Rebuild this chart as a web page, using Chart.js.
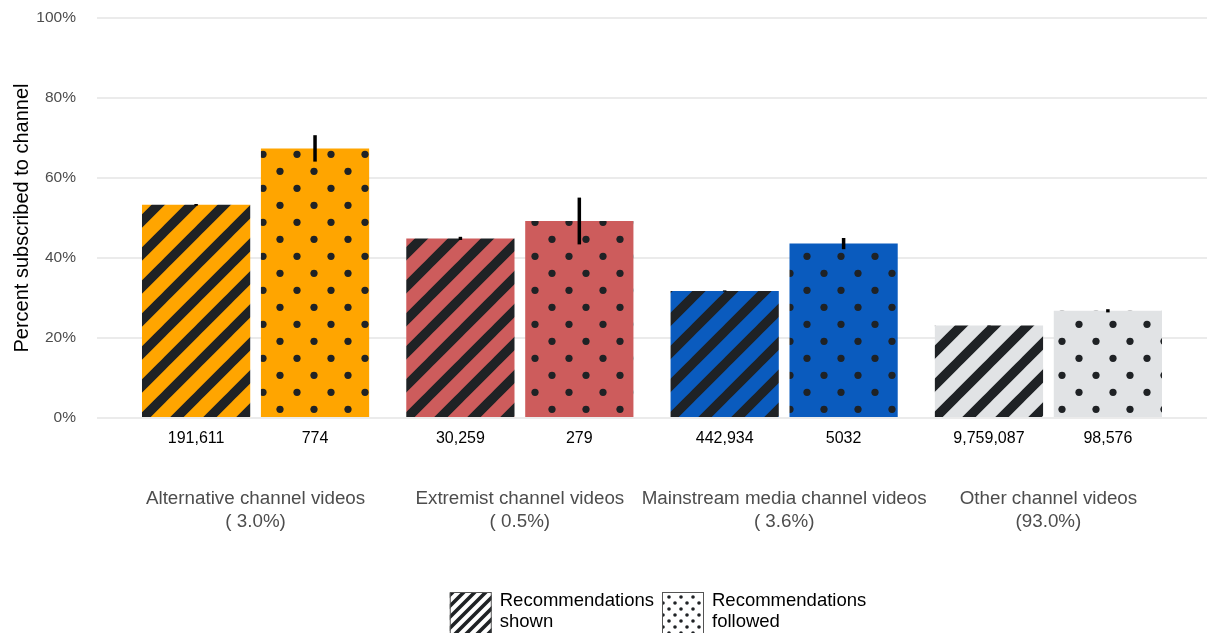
<!DOCTYPE html>
<html>
<head>
<meta charset="utf-8">
<script src="https://cdn.jsdelivr.net/npm/chart.js@4.4.0/dist/chart.umd.min.js"></script>
<style>
  html, body { margin: 0; padding: 0; background: #fff; }
  #wrap { width: 1207px; height: 633px; position: relative; }
</style>
</head>
<body>
<div id="wrap"><canvas id="subChart"></canvas></div>
<script>
/* Data */
const categories = [
  ["Alternative channel videos", "( 3.0%)"],
  ["Extremist channel videos", "( 0.5%)"],
  ["Mainstream media channel videos", "( 3.6%)"],
  ["Other channel videos", "(93.0%)"],
];
const seriesNames = [["Recommendations", "shown"], ["Recommendations", "followed"]];
const shownPct = [53.3, 44.9, 31.75, 23.1];
const followedPct = [67.4, 49.25, 43.6, 26.8];
const shownErr = [0.2, 0.4, 0.15, 0.05];
const followedErr = [3.3, 5.85, 1.4, 0.4];
const shownCounts = ["191,611", "30,259", "442,934", "9,759,087"];
const followedCounts = ["774", "279", "5032", "98,576"];
const yTicks = [0, 20, 40, 60, 80, 100];

const categoryColors = ["#FFA500", "#CD5C5C", "#0A5BBE", "#E1E3E5"];
const INK = "#1f2225";
const FONT = '"Liberation Sans", Arial, sans-serif';

Chart.defaults.font.family = FONT;

/* Fill patterns */
function stripePattern(base, period, width) {
  const c = document.createElement("canvas");
  c.width = c.height = period;
  const g = c.getContext("2d");
  g.fillStyle = base;
  g.fillRect(0, 0, period, period);
  g.strokeStyle = INK;
  g.lineWidth = width;
  g.lineCap = "square";
  g.beginPath();
  for (let k = -1; k <= 1; k++) {
    g.moveTo(k * period, period);
    g.lineTo(k * period + period, 0);
  }
  g.stroke();
  return g.createPattern(c, "repeat");
}

function dotPattern(base, step, r, ox, oy) {
  const c = document.createElement("canvas");
  c.width = c.height = step;
  const g = c.getContext("2d");
  g.fillStyle = base;
  g.fillRect(0, 0, step, step);
  g.fillStyle = INK;
  const half = step / 2;
  [[ox, oy], [ox + half, oy + half]].forEach(([px, py]) => {
    for (let dx = -step; dx <= step; dx += step) {
      for (let dy = -step; dy <= step; dy += step) {
        g.beginPath();
        g.arc(px + dx, py + dy, r, 0, Math.PI * 2);
        g.fill();
      }
    }
  });
  return g.createPattern(c, "repeat");
}

const shownFill = categoryColors.map((c) => stripePattern(c, 33, 9.5));
const followedFill = categoryColors.map((c) => dotPattern(c, 34, 3.6, 8, 1.3));

/* Error bars and counts under each bar */
const barNotes = {
  id: "barNotes",
  afterDatasetsDraw(chart) {
    const { ctx } = chart;
    const y = chart.scales.y;
    const errs = [shownErr, followedErr];
    const counts = [shownCounts, followedCounts];
    chart.data.datasets.forEach((ds, d) => {
      chart.getDatasetMeta(d).data.forEach((bar, i) => {
        const v = ds.data[i].y;
        ctx.save();
        ctx.strokeStyle = "#000";
        ctx.lineWidth = 3.5;
        ctx.beginPath();
        ctx.moveTo(bar.x, y.getPixelForValue(v - errs[d][i]));
        ctx.lineTo(bar.x, y.getPixelForValue(v + errs[d][i]));
        ctx.stroke();
        ctx.fillStyle = "#000";
        ctx.font = "16px " + FONT;
        ctx.textAlign = "center";
        ctx.textBaseline = "middle";
        ctx.fillText(counts[d][i], bar.x, y.getPixelForValue(0) + 21);
        ctx.restore();
      });
    });
  },
};

/* Legend with pattern swatches */
const patternLegend = {
  id: "patternLegend",
  afterDraw(chart) {
    const { ctx, chartArea } = chart;
    const swatches = [stripePattern("#fff", 11, 3.6), dotPattern("#fff", 12, 1.8, 3, 3)];
    const size = 42;
    ctx.save();
    ctx.font = "18.5px " + FONT;
    const widths = seriesNames.map((lines) => Math.max(...lines.map((t) => ctx.measureText(t).width)));
    const itemW = widths.map((w) => size + 8 + w);
    const gap = 8;
    const total = itemW[0] + gap + itemW[1];
    let x = (chartArea.left + chartArea.right) / 2 + 6 - total / 2;
    const top = 592;
    seriesNames.forEach((lines, k) => {
      ctx.fillStyle = swatches[k];
      ctx.fillRect(x, top, size, size);
      ctx.strokeStyle = "#555";
      ctx.lineWidth = 1;
      ctx.strokeRect(x + 0.5, top + 0.5, size - 1, size - 1);
      ctx.fillStyle = "#000";
      ctx.textAlign = "left";
      ctx.textBaseline = "middle";
      lines.forEach((t, j) => ctx.fillText(t, x + size + 8, top + 9 + j * 21));
      x += itemW[k] + gap;
    });
    ctx.restore();
  },
};

const chart = new Chart(document.getElementById("subChart"), {
  type: "bar",
  data: {
    datasets: [
      {
        label: seriesNames[0].join(" "),
        data: shownPct.map((v, i) => ({ x: i + 1, y: v })),
        backgroundColor: shownFill,
        borderWidth: 0,
        categoryPercentage: 0.9,
        barPercentage: 0.91,
      },
      {
        label: seriesNames[1].join(" "),
        data: followedPct.map((v, i) => ({ x: i + 1, y: v })),
        backgroundColor: followedFill,
        borderWidth: 0,
        categoryPercentage: 0.9,
        barPercentage: 0.91,
      },
    ],
  },
  options: {
    responsive: true,
    maintainAspectRatio: false,
    animation: false,
    layout: { padding: { top: 18, left: 0, right: 0, bottom: 0 } },
    scales: {
      x: {
        type: "linear",
        min: 0.4,
        max: 4.6,
        offset: false,
        grid: { display: false },
        border: { display: false },
        afterBuildTicks: (scale) => {
          scale.ticks = categories.map((c, i) => ({ value: i + 1 }));
        },
        ticks: {
          autoSkip: false,
          maxRotation: 0,
          padding: 62,
          color: "#4d4d4d",
          font: { size: 18.8 },
          callback: (v) => categories[v - 1],
        },
        afterFit: (scale) => {
          scale.height = 215;
        },
      },
      y: {
        min: 0,
        max: 100,
        afterBuildTicks: (scale) => {
          scale.ticks = yTicks.map((v) => ({ value: v }));
        },
        // invisible tick marks keep the labels clear of the grid
        grid: { color: "#ebebeb", lineWidth: 2, drawTicks: true, tickLength: 21, tickColor: "rgba(0,0,0,0)" },
        border: { display: false },
        ticks: {
          padding: 0,
          color: "#4d4d4d",
          font: { size: 15.5 },
          callback: (v) => v + "%",
        },
        title: {
          display: true,
          text: "Percent subscribed to channel",
          color: "#000",
          font: { size: 20 },
          padding: { top: 10, bottom: 0 },
        },
        afterFit: (scale) => {
          scale.width = 97;
        },
      },
    },
    plugins: {
      legend: { display: false },
      tooltip: { enabled: false },
    },
  },
  plugins: [barNotes, patternLegend],
});
</script>
</body>
</html>
